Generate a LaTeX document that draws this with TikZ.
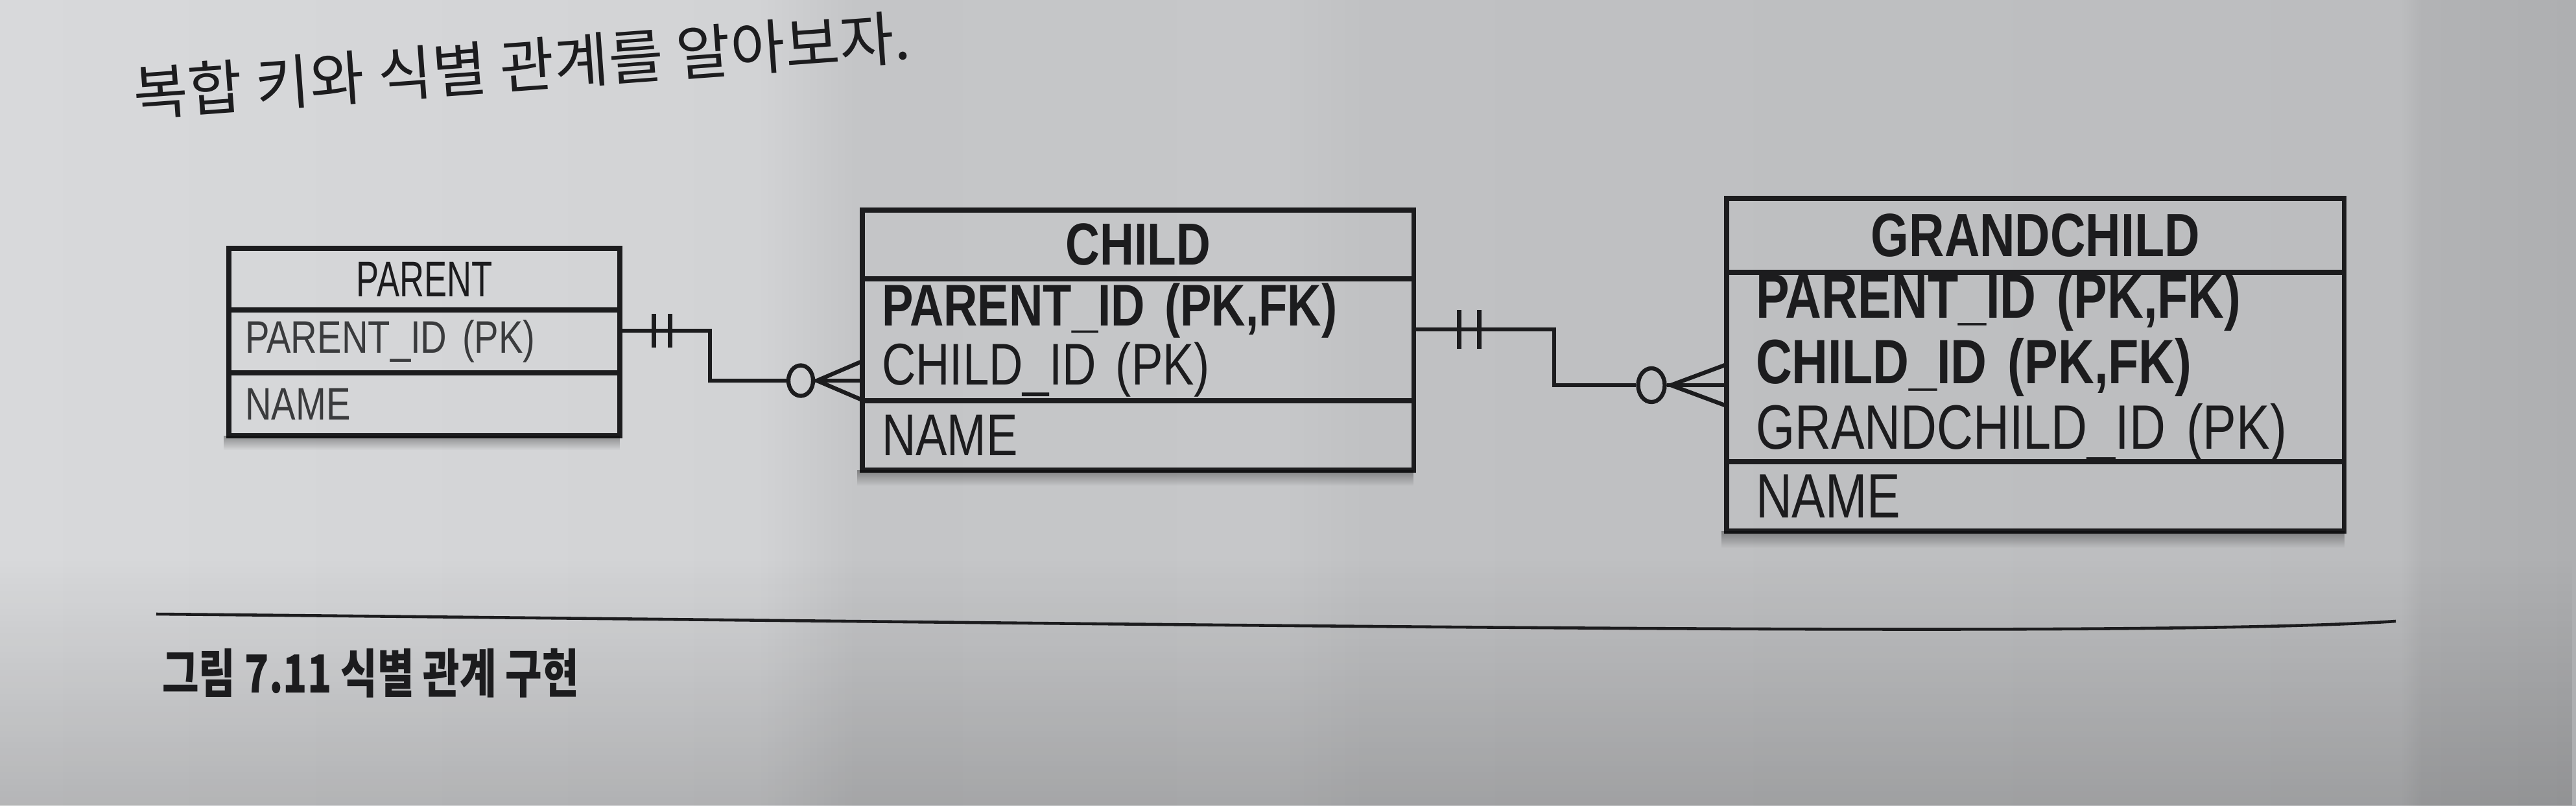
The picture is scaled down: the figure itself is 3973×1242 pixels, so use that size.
\documentclass[tikz,border=0pt]{standalone}
\usepackage{fontspec}
\setmainfont{Liberation Sans}
\newfontfamily\erdfont[FakeStretch=0.8]{Liberation Sans}
\newfontfamily\erdnarrow[FakeStretch=0.68]{Liberation Sans}
\newfontfamily\hangul{Noto Sans CJK KR}
\newfontfamily\hangulcap[FakeStretch=0.76]{Noto Sans CJK KR}
\usetikzlibrary{positioning,calc,shapes.geometric,fadings}

\definecolor{ink}{HTML}{1C1C1E}
\definecolor{inklight}{HTML}{3A3B3D}
\definecolor{paperA}{HTML}{D8D9DB}
\definecolor{paperB}{HTML}{D2D3D5}
\definecolor{paperC}{HTML}{C4C5C7}
\definecolor{paperD}{HTML}{C6C7C9}
\definecolor{paperE}{HTML}{C0C1C3}
\definecolor{paperF}{HTML}{BCBDBF}
\definecolor{paperG}{HTML}{B2B3B5}
\definecolor{paperH}{HTML}{AEAFB1}
\pgfdeclarehorizontalshading{paper}{100bp}{color(0bp)=(paperA); color(25bp)=(paperA);
  color(39.7bp)=(paperB); color(41.6bp)=(paperC); color(49.9bp)=(paperD);
  color(51.5bp)=(paperE); color(71.6bp)=(paperF); color(72bp)=(paperG);
  color(75bp)=(paperH); color(100bp)=(paperH)}

\tikzset{
  tablehead/.style={draw=ink, line width=2.2pt, outer sep=0pt, inner sep=0pt, text=ink, anchor=north west},
  tablerow/.style={draw=ink, line width=2.2pt, outer sep=0pt, inner ysep=0pt, align=left, text=ink},
  relline/.style={draw=ink, line width=1.8pt},
  optmark/.style={ellipse, draw=ink, line width=1.8pt, inner sep=0pt},
  tableshadow/.style={fill=black, opacity=0.35, path fading=south},
}

\begin{document}
\begin{tikzpicture}[x=0.01cm,y=-0.01cm]
\useasboundingbox (0,0) rectangle (3973,1242);
\shade[shading=paper] (0,0) rectangle (3973,1242);
\fill[black, opacity=0.16, path fading=north] (0,860) rectangle (3973,1242);

\node[font=\hangul\fontsize{26}{30}\selectfont, text=ink, rotate=4.2] (lead) at (805,100) {복합 키와 식별 관계를 알아보자.};

\node[tablehead, minimum width=6.03cm, minimum height=0.95cm, font=\erdnarrow\fontsize{22}{24}\selectfont] (parent) at (353,383) {PARENT};
\node[tablerow, text=inklight, minimum height=0.97cm, inner xsep=0.25cm, text width=5.53cm, font=\erdfont\fontsize{20}{22}\selectfont, below=0pt of parent] (parentkey) {PARENT\_ID (PK)};
\node[tablerow, text=inklight, minimum height=0.97cm, inner xsep=0.25cm, text width=5.53cm, font=\erdfont\fontsize{20}{22}\selectfont, below=0pt of parentkey] (parentattr) {NAME};
\fill[tableshadow] ($(parentattr.south west)+(-8,0)$) rectangle ($(parentattr.south east)+(0,22)$);

\node[tablehead, minimum width=8.5cm, minimum height=1.06cm, font=\erdfont\bfseries\fontsize{26}{28}\selectfont] (child) at (1330,324) {CHILD};
\node[tablerow, minimum height=1.88cm, inner xsep=0.3cm, text width=7.9cm, font=\erdfont\fontsize{25.8}{25.9}\selectfont, below=0pt of child] (childkey) {\textbf{PARENT\_ID (PK,FK)}\\CHILD\_ID (PK)};
\node[tablerow, minimum height=1.07cm, inner xsep=0.3cm, text width=7.9cm, font=\erdfont\fontsize{25.8}{25.9}\selectfont, below=0pt of childkey] (childattr) {NAME};
\fill[tableshadow] ($(childattr.south west)+(-8,0)$) rectangle ($(childattr.south east)+(0,24)$);

\node[tablehead, minimum width=9.52cm, minimum height=1.14cm, font=\erdfont\bfseries\fontsize{26.8}{28}\selectfont] (grand) at (2663,306) {GRANDCHILD};
\node[tablerow, minimum height=2.9cm, inner xsep=0.45cm, text width=8.62cm, font=\erdfont\fontsize{27.5}{28.7}\selectfont, below=0pt of grand] (grandkey) {\textbf{PARENT\_ID (PK,FK)}\\\textbf{CHILD\_ID (PK,FK)}\\GRANDCHILD\_ID (PK)};
\node[tablerow, minimum height=1.07cm, inner xsep=0.45cm, text width=8.62cm, font=\erdfont\fontsize{27.5}{28.7}\selectfont, below=0pt of grandkey] (grandattr) {NAME};
\fill[tableshadow] ($(grandattr.south west)+(-8,0)$) rectangle ($(grandattr.south east)+(0,26)$);

\coordinate (bend1) at (1095,510);
\coordinate (drop1) at (1095,587);
\coordinate (foot1) at (1260,587);
\node[optmark, minimum width=0.38cm, minimum height=0.47cm] (opt1) at (1235,587) {};
\draw[relline] (parentkey.east |- bend1) -- (bend1) -- (drop1) -- (opt1.west);
\draw[relline] (opt1.east) -- (childkey.west |- opt1);
\draw[relline] ($(childkey.west |- foot1)+(0,-30)$) -- (foot1) -- ($(childkey.west |- foot1)+(0,30)$);
\draw[relline] ($(parentkey.east |- bend1)+(52,-26)$) -- ++(0,52);
\draw[relline] ($(parentkey.east |- bend1)+(77,-26)$) -- ++(0,52);

\coordinate (bend2) at (2397,508);
\coordinate (drop2) at (2397,594);
\coordinate (foot2) at (2577,594);
\node[optmark, minimum width=0.41cm, minimum height=0.52cm] (opt2) at (2547,594) {};
\draw[relline] (childkey.east |- bend2) -- (bend2) -- (drop2) -- (opt2.west);
\draw[relline] (opt2.east) -- (grandkey.west |- opt2);
\draw[relline] ($(grandkey.west |- foot2)+(0,-32)$) -- (foot2) -- ($(grandkey.west |- foot2)+(0,32)$);
\draw[relline] ($(childkey.east |- bend2)+(70,-30)$) -- ++(0,60);
\draw[relline] ($(childkey.east |- bend2)+(101,-30)$) -- ++(0,60);

\draw[ink, line width=1.3pt] (241,947) .. controls (1800,962) and (3300,985) .. (3695,958);
\node[anchor=west, font=\hangulcap\bfseries\fontsize{23}{26}\selectfont, text=ink] (caption) at (238,1038) {그림 7.11 식별 관계 구현};
\end{tikzpicture}
\end{document}
